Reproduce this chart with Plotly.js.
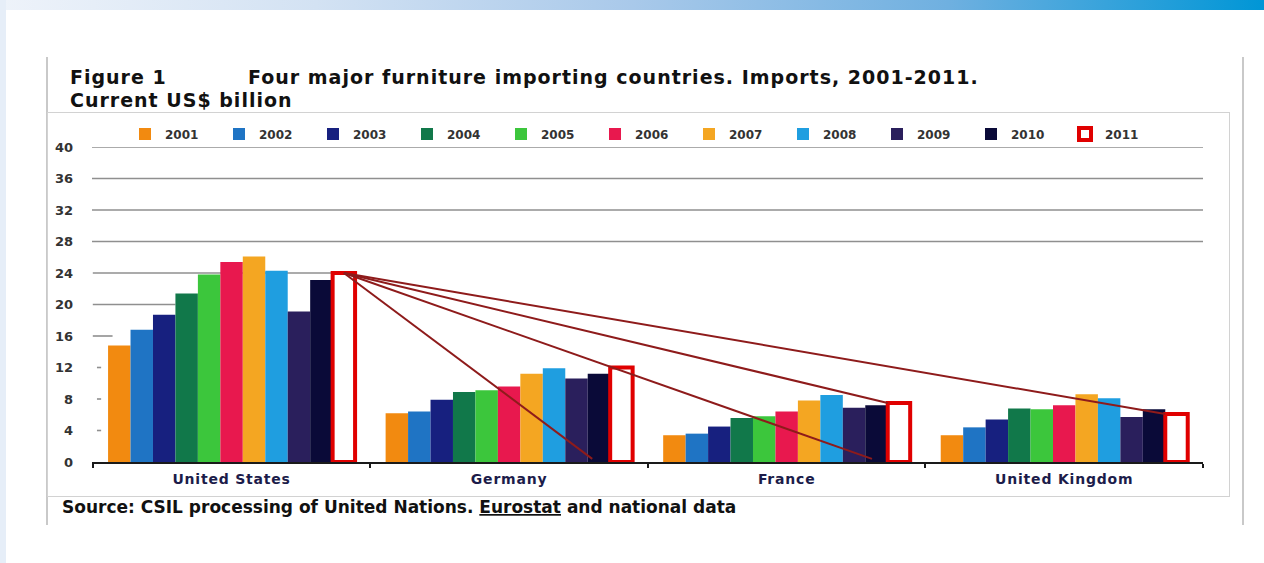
<!DOCTYPE html>
<html>
<head>
<meta charset="utf-8">
<script src="https://cdn.plot.ly/plotly-3.0.1.min.js"></script>
<style>
html,body{margin:0;padding:0;background:#ffffff;}
#wrap{position:relative;width:1264px;height:563px;overflow:hidden;background:#fff;}
#chart{position:absolute;left:0;top:0;width:1264px;height:563px;}
.topbar{position:absolute;left:0;top:0;width:1264px;height:10px;
  background:linear-gradient(to right,#eef3fa 0%,#d3e2f3 25%,#a9c9ea 50%,#6fb0e0 75%,#0096d6 100%);pointer-events:none;}
.leftbar{position:absolute;left:0;top:0;width:6px;height:563px;background:#e6eef8;pointer-events:none;}
.ln{position:absolute;background:#c9c9c9;pointer-events:none;}
.box{position:absolute;border:1px solid #d2d2d2;pointer-events:none;}
.annotation[data-index="0"] text,
.annotation[data-index="1"] text,
.annotation[data-index="2"] text{letter-spacing:1px;}
.xtick text{letter-spacing:0.8px;}
</style>
</head>
<body>
<div id="wrap">
  <div id="chart"></div>
  <div class="topbar"></div>
  <div class="leftbar"></div>
  <div class="ln" style="left:46px;top:57px;width:2px;height:468px;"></div>
  <div class="ln" style="left:1242px;top:57px;width:2px;height:468px;"></div>
  <div class="box" style="left:47px;top:112px;width:1181px;height:383px;"></div>
</div>
<script>
// ---- data (US$ billion) ----
const countries = ["United States", "Germany", "France", "United Kingdom"];
const years = ["2001","2002","2003","2004","2005","2006","2007","2008","2009","2010","2011"];
const v2001 = [14.8, 6.2, 3.4, 3.4];
const v2002 = [16.8, 6.4, 3.6, 4.4];
const v2003 = [18.7, 7.9, 4.5, 5.4];
const v2004 = [21.4, 8.9, 5.6, 6.8];
const v2005 = [23.8, 9.1, 5.8, 6.7];
const v2006 = [25.4, 9.6, 6.4, 7.2];
const v2007 = [26.1, 11.2, 7.8, 8.6];
const v2008 = [24.3, 11.9, 8.5, 8.1];
const v2009 = [19.1, 10.6, 6.9, 5.7];
const v2010 = [23.1, 11.2, 7.2, 6.7];
const v2011 = [24.0, 12.0, 7.5, 6.1];
const yTicks = [0,4,8,12,16,20,24,28,32,36,40];

const series = [v2001,v2002,v2003,v2004,v2005,v2006,v2007,v2008,v2009,v2010,v2011];
const colors = ["#f28a10","#1f74c4","#17207f","#11784a","#3cc63c","#e8184e",
                "#f4a622","#1f9ee0","#2a1f5c","#0a0a38","#ffffff"];

const FONT = "DejaVu Sans, Arial, sans-serif";
const bargap = 0.11;
const slot = (1 - bargap) / years.length;
// left edge position of bar slot k (fractional) within category c
function slotX(c, k) { return c - (1 - bargap) / 2 + k * slot; }

const traces = years.map((yr, i) => ({
  type: "bar",
  name: yr,
  x: countries,
  y: series[i],
  marker: {
    color: colors[i],
    line: i === years.length - 1 ? {color: "#e00000", width: 4} : {width: 0}
  },
  hoverinfo: "x+y+name"
}));

// plot area in pixels: left 92, right 1203, top 147, bottom 462
const L = 92, R = 1203, T = 147, B = 462;
const px = v => (v - L) / (R - L);
const py = v => (B - v) / (B - T);

const shapes = [];
// horizontal grid lines
const fullGrid = yTicks.filter(t => t >= 28);
fullGrid.forEach(t => shapes.push({type:"line", xref:"paper", yref:"y", x0:0, x1:1, y0:t, y1:t,
  line:{color:"#8f8f8f", width:1.6}, layer:"below"}));
// partly visible lower grid lines (behind bars)
const partial = [
  {y:24, x1: slotX(0, 10)},
  {y:20, x1: slotX(0, 3)},
  {y:16, x1: slotX(0, 0.2)},
  {y:12, x1: -0.47}, {y:8, x1: -0.47}, {y:4, x1: -0.47}
];
partial.forEach(p => shapes.push({type:"line", xref:"x", yref:"y", x0:(p.y >= 16 ? -0.5 : -0.485), x1:p.x1, y0:p.y, y1:p.y,
  line:{color:"#8f8f8f", width:1.6}, layer:"below"}));

// red connector lines from the US 2011 bar to the other countries' 2011 bars
const start = {x: slotX(0, 10.5), y: v2011[0]};
const ends = [
  {x: slotX(1, 9.2), y: 0.4},
  {x: slotX(2, 9.3), y: 0.4},
  {x: slotX(2, 10.0), y: v2011[2]},
  {x: slotX(3, 10.0), y: v2011[3]}
];
ends.forEach(e => shapes.push({type:"line", xref:"x", yref:"y", x0:start.x, y0:start.y, x1:e.x, y1:e.y,
  line:{color:"#8e1b1b", width:2}, layer:"above"}));

const annotations = [
  {text:"<b>Figure 1</b>", x:px(68), y:py(77.5), font:{family:FONT, size:19, color:"#111"}},
  {text:"<b>Four major furniture importing countries. Imports, 2001-2011.</b>", x:px(246), y:py(77.5),
   font:{family:FONT, size:19, color:"#111"}},
  {text:"<b>Current US$ billion</b>", x:px(68), y:py(99.5), font:{family:FONT, size:19, color:"#111"}},
  {text:"<b>Source: CSIL processing of United Nations. <span style='text-decoration:underline'>Eurostat</span> and national data</b>",
   x:px(60), y:py(507), font:{family:FONT, size:17, color:"#111"}}
].map(a => Object.assign({xref:"paper", yref:"paper", xanchor:"left", yanchor:"middle", align:"left", showarrow:false}, a));

const layout = {
  width: 1264, height: 563,
  margin: {l: L, r: 1264 - R, t: T, b: 563 - B, pad: 0},
  paper_bgcolor: "#ffffff",
  plot_bgcolor: "rgba(0,0,0,0)",
  barmode: "group",
  bargap: bargap,
  bargroupgap: 0,
  font: {family: FONT, color: "#222"},
  showlegend: true,
  legend: {
    orientation: "h", x: px(125), xanchor: "left", y: py(134), yanchor: "middle",
    font: {family: FONT, size: 12, color: "#333", weight: "bold"},
    entrywidth: 49, entrywidthmode: "pixels", itemwidth: 30,
    bgcolor: "rgba(0,0,0,0)", traceorder: "normal"
  },
  xaxis: {
    type: "category",
    showline: true, linecolor: "#1a1a1a", linewidth: 2,
    ticks: "outside", ticklen: 4, tickwidth: 2, tickcolor: "#1a1a1a",
    tickson: "boundaries",
    showgrid: false, zeroline: false,
    tickfont: {family: FONT, size: 14, color: "#1c1c4a", weight: "bold"},
    ticklabelstandoff: 3,
    fixedrange: true
  },
  yaxis: {
    range: [0, 40],
    tickvals: yTicks,
    ticktext: yTicks.map(String),
    showgrid: false, zeroline: false, showline: false,
    ticks: "",
    tickfont: {family: FONT, size: 13, color: "#333", weight: "bold"},
    ticklabelstandoff: 18,
    fixedrange: true
  },
  shapes: shapes,
  annotations: annotations
};

Plotly.newPlot("chart", traces, layout, {displayModeBar: false, staticPlot: true});
</script>
</body>
</html>
